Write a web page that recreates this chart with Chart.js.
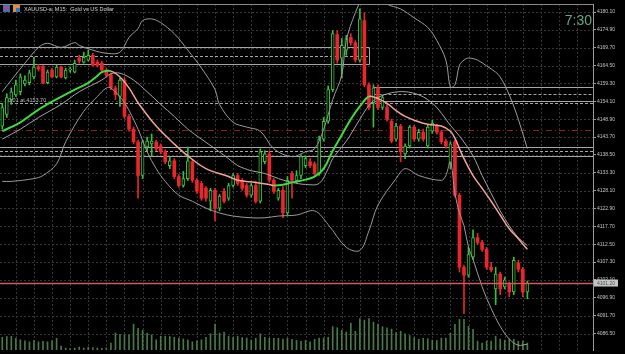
<!DOCTYPE html>
<html>
<head>
<meta charset="utf-8">
<script src="https://cdn.jsdelivr.net/npm/chart.js@4.4.1/dist/chart.umd.min.js"></script>
<style>
  html, body { margin: 0; padding: 0; background: #000; }
  canvas { display: block; }
</style>
</head>
<body>
<canvas id="myChart" width="625" height="354"></canvas>
<script>
// XAUUSD-a M15 candles
let opens = [4146.9,4150.3,4154.6,4156.0,4156.9,4159.2,4159.5,4161.2,4164.1,4164.1,
  4159.5,4163.2,4161.2,4164.1,4160.9,4163.2,4162.6,4166.7,4165.5,4166.1,
  4167.5,4165.5,4165.2,4163.2,4161.8,4158.0,4155.5,4160.3,4149.7,4146.0,
  4142.3,4132.5,4140.8,4141.7,4142.3,4141.1,4139.4,4135.4,4136.8,4132.2,
  4129.6,4131.6,4136.5,4131.1,4130.2,4128.8,4125.0,4128.2,4123.0,4127.9,
  4125.9,4129.6,4132.5,4131.1,4129.6,4126.8,4129.6,4125.0,4136.5,4138.8,
  4131.1,4125.9,4128.2,4121.6,4133.1,4131.1,4132.5,4135.4,4136.5,4135.9,
  4133.1,4143.1,4148.3,4157.5,4173.5,4166.7,4169.0,4172.7,4171.2,4166.1,
  4177.6,4158.9,4153.7,4158.0,4152.3,4152.3,4148.3,4143.1,4146.9,4138.8,
  4141.1,4146.6,4143.1,4145.1,4141.1,4145.4,4146.9,4145.1,4142.5,4135.9,
  4142.3,4126.8,4105.8,4103.5,4108.7,4114.4,4113.0,4111.0,4105.8,4099.5,
  4103.8,4100.1,4100.9,4098.6,4107.0,4105.2,4098.6];
let highs = [4153.5,4156.3,4158.0,4160.3,4162.1,4161.5,4163.2,4166.9,4164.9,4164.6,
  4163.2,4163.8,4164.6,4164.4,4163.8,4164.1,4166.1,4167.5,4168.4,4169.0,
  4168.1,4166.1,4165.8,4163.8,4162.4,4158.6,4160.9,4160.9,4150.3,4146.6,
  4142.8,4142.8,4143.7,4144.6,4142.8,4141.7,4140.0,4138.0,4137.4,4132.8,
  4133.7,4140.8,4137.1,4131.6,4130.8,4129.3,4128.8,4128.8,4127.0,4128.8,
  4130.2,4133.1,4133.1,4131.6,4130.2,4130.2,4130.8,4140.3,4139.7,4139.7,
  4131.6,4128.8,4129.3,4132.2,4133.7,4133.9,4138.5,4138.2,4137.4,4136.5,
  4144.0,4149.4,4158.6,4174.7,4174.7,4172.4,4173.3,4173.8,4171.8,4181.0,
  4179.9,4159.5,4158.9,4158.9,4156.0,4153.2,4148.9,4147.7,4147.4,4141.7,
  4147.1,4147.1,4146.0,4146.0,4147.4,4148.6,4147.4,4145.7,4143.1,4142.3,
  4142.8,4127.3,4106.4,4111.6,4116.7,4115.6,4113.6,4111.6,4107.2,4105.8,
  4104.4,4102.9,4101.5,4108.7,4107.8,4105.8,4101.8];
let lows = [4146.0,4149.4,4153.2,4155.5,4156.0,4158.6,4158.9,4160.6,4162.9,4159.2,
  4159.2,4160.9,4160.9,4160.9,4160.6,4162.6,4162.4,4165.2,4165.2,4165.8,
  4164.4,4164.1,4162.9,4161.2,4157.5,4154.6,4152.6,4149.1,4145.4,4141.7,
  4125.9,4131.6,4139.7,4138.2,4139.7,4138.8,4135.9,4134.5,4131.6,4129.1,
  4129.1,4131.1,4130.5,4127.3,4125.3,4125.0,4122.2,4119.3,4122.2,4124.5,
  4125.3,4129.1,4129.6,4128.2,4126.2,4126.2,4124.5,4124.5,4135.9,4130.5,
  4127.3,4125.3,4120.2,4121.0,4125.9,4130.5,4131.6,4134.8,4134.8,4132.5,
  4132.5,4142.5,4147.7,4156.9,4165.2,4160.9,4167.5,4170.4,4165.5,4165.5,
  4158.3,4151.7,4146.6,4151.7,4151.7,4148.3,4142.0,4142.5,4136.5,4137.4,
  4140.5,4142.5,4142.5,4142.5,4140.5,4144.8,4144.6,4141.7,4140.5,4134.5,
  4126.2,4104.4,4092.3,4102.9,4108.1,4112.4,4110.4,4105.2,4104.4,4094.9,
  4097.8,4099.5,4097.2,4097.8,4104.4,4097.2,4096.6];
let closes = [4152.3,4155.2,4156.9,4158.9,4161.2,4160.3,4162.4,4164.1,4163.5,4159.5,
  4162.6,4161.2,4164.1,4161.2,4163.2,4163.5,4165.2,4165.8,4166.9,4167.5,
  4164.6,4164.6,4163.2,4161.8,4158.0,4156.0,4160.3,4149.7,4146.0,4142.3,
  4132.5,4142.3,4142.5,4142.5,4140.3,4139.4,4136.5,4136.8,4132.2,4129.6,
  4131.6,4136.8,4131.1,4127.9,4125.9,4125.9,4128.2,4123.0,4126.5,4125.0,
  4129.6,4132.5,4130.2,4128.8,4126.8,4129.6,4125.0,4139.4,4138.8,4131.1,
  4127.9,4128.2,4121.6,4131.1,4131.1,4132.5,4138.0,4137.4,4135.4,4133.1,
  4143.1,4148.3,4157.5,4173.8,4166.1,4170.4,4172.4,4171.2,4166.1,4178.1,
  4158.9,4152.3,4158.0,4152.3,4155.2,4148.9,4142.5,4146.9,4139.4,4141.1,
  4146.6,4143.1,4145.1,4143.1,4146.6,4147.7,4145.1,4142.3,4141.1,4141.7,
  4126.8,4105.8,4103.5,4109.5,4114.4,4113.0,4111.0,4105.8,4105.0,4103.8,
  4099.5,4102.1,4098.6,4107.8,4105.2,4098.6,4101.2];
let volumes = [258,274,280,238,208,188,166,194,166,174,
  166,188,238,80,40,30,40,60,40,60,
  50,40,34,44,138,344,316,308,308,524,
  438,402,344,308,208,280,280,274,258,238,
  224,208,166,188,208,258,330,524,344,366,
  280,258,280,252,244,202,238,330,258,238,
  238,238,224,238,216,194,174,194,166,216,
  244,244,258,474,452,402,366,544,380,638,
  608,638,566,524,474,452,424,352,380,330,
  294,252,216,238,230,202,194,240,240,340,
  520,620,620,480,420,180,140,180,180,280,
  220,200,220,220,180,180,140];

// moving average (green rising / salmon falling), read at these bars
let maBars = [0,4,8,11,16,19,21,22,24,26,28,30,34,38,41,45,50,52,56,59,60,62,64,67,69,71,73,75,77,79,
  81,83,85,87,89,91,94,97,99,100,101,102,104,106,108,110,112,114,116];
let maPrices = [4145.4,4148.0,4151.7,4154.0,4157.5,4159.5,4161.5,4162.6,4162.9,4161.2,
  4158.0,4153.7,4146.9,4141.7,4138.2,4134.5,4132.2,4131.1,4130.5,4129.9,
  4129.6,4129.8,4130.5,4131.3,4132.2,4134.5,4139.7,4144.3,4148.9,4152.6,
  4155.5,4154.9,4153.5,4151.4,4149.7,4148.6,4147.4,4146.9,4145.4,4143.4,
  4140.3,4137.4,4132.5,4128.8,4125.0,4121.0,4117.0,4114.1,4111.0];

// bollinger bands
let midBars = [0,4,8,13,17,22,24,26,29,32,35,38,41,44,47,50,52,55,58,61,64,67,70,72,73,76,79,81,83,86,
  89,92,94,96,98,99,101,104,106,108,110,112,114,116];
let midPrices = [4143.1,4146.0,4149.4,4153.2,4156.9,4160.3,4162.1,4162.3,4160.3,4156.9,
  4153.2,4149.7,4146.0,4143.1,4140.3,4137.4,4135.4,4133.9,4133.1,4131.6,
  4130.5,4129.9,4130.2,4134.5,4137.4,4142.5,4148.9,4152.9,4155.2,4156.6,
  4156.9,4156.0,4154.6,4152.3,4148.9,4147.1,4144.0,4138.2,4132.5,4127.3,
  4122.2,4117.9,4114.4,4112.1];
let upBars = [0,2,5,8,10,13,16,17,20,23,26,28,30,31,33,35,38,41,44,47,48,51,54,57,60,64,67,69,71,73,
  75,76,78,80,82,84,85,88,91,94,96,98,99,100,101,102,103,105,107,109,110,112,114,116];
let upPrices = [4156.9,4160.3,4165.2,4169.8,4171.0,4169.8,4171.2,4170.4,4169.0,4168.1,
  4168.4,4172.7,4175.3,4177.6,4178.1,4177.0,4173.8,4169.0,4163.8,4157.5,
  4153.2,4148.0,4146.6,4145.4,4140.3,4138.0,4139.4,4140.3,4146.0,4154.6,
  4161.8,4171.8,4179.9,4185.0,4186.2,4184.2,4182.4,4181.0,4178.4,4175.6,
  4171.8,4166.1,4158.3,4158.9,4164.6,4166.1,4166.7,4166.1,4164.4,4162.6,
  4161.2,4156.0,4148.9,4140.3];
let lowBars = [0,2,7,9,12,14,18,21,23,24,27,30,32,34,36,39,42,45,48,51,55,58,61,65,69,72,76,79,81,83,
  87,89,92,97,98,99,100,101,102,103,104,106,108,110,112,114,116];
let lowPrices = [4130.8,4130.8,4131.6,4132.5,4135.9,4142.3,4151.2,4155.5,4158.0,4158.0,
  4153.7,4146.0,4139.4,4134.5,4130.8,4126.8,4125.0,4123.0,4121.6,4120.7,
  4120.2,4120.2,4120.7,4121.0,4122.2,4118.2,4111.6,4110.7,4116.4,4123.9,
  4131.6,4134.5,4132.5,4131.1,4132.5,4136.5,4127.3,4121.6,4117.9,4111.6,
  4108.1,4100.1,4093.8,4088.6,4084.9,4083.1,4083.4];

// objects drawn on the chart
let boxPrices = [4169.8, 4167.2, 4164.9];
let boxEndBar = 81;
let zonePrices = [4158.3, 4156.3, 4154.3];
let zoneStartBar = 82;
let orderPrice = 4153.7;
let alertPrice = 4145.7;
let supportPrices = [4140.8, 4139.7, 4138.2];

let priceTicks = [4180.10,4174.90,4169.70,4164.50,4159.30,4154.10,4148.90,4143.70,4138.50,4133.30,
  4128.10,4122.90,4117.70,4112.50,4107.30,4102.10,4096.90,4091.70,4086.50];

// bar slots, including the empty space right of the last candle
let barLabels = [];
for (let i = 0; i < 131; i++) barLabels.push(i);

const GREEN = '#36c236';
const RED = '#e8262b';

function isUp(i) {
    return closes[i] >= opens[i];
}

function points(bars, prices) {
    return bars.map((b, k) => ({ x: b, y: prices[k] }));
}

function hline(ctx, x1, x2, y) {
    ctx.beginPath();
    ctx.moveTo(x1, y);
    ctx.lineTo(x2, y);
    ctx.stroke();
}

function vline(ctx, x, y1, y2) {
    ctx.beginPath();
    ctx.moveTo(x, y1);
    ctx.lineTo(x, y2);
    ctx.stroke();
}

// grid, horizontal objects, labels
const mt4Overlay = {
    id: 'mt4Overlay',
    beforeDatasetsDraw(chart) {
        const { ctx, chartArea: a, scales: { x, y } } = chart;
        const py = v => Math.round(y.getPixelForValue(v)) + 0.5;
        ctx.save();
        ctx.lineWidth = 1;

        // dotted grid
        ctx.strokeStyle = '#363636';
        ctx.setLineDash([2, 2]);
        priceTicks.forEach(v => hline(ctx, a.left, a.right, py(v)));
        for (let i = 3; i < barLabels.length; i += 4) {
            vline(ctx, Math.round(x.getPixelForValue(i)) + 0.5, a.top, a.bottom);
        }

        ctx.strokeStyle = '#a6a6a6';
        // rectangle on the left
        const boxRight = Math.round(x.getPixelForValue(boxEndBar)) + 0.5;
        boxPrices.forEach((p, k) => {
            ctx.setLineDash(k === 1 ? [3, 2] : []);
            hline(ctx, a.left, boxRight, py(p));
        });
        ctx.setLineDash([]);
        vline(ctx, boxRight, py(boxPrices[0]), py(boxPrices[2]));

        // zone on the right
        const zoneLeft = Math.round(x.getPixelForValue(zoneStartBar)) + 0.5;
        zonePrices.forEach((p, k) => {
            ctx.setLineDash(k === 1 ? [3, 2] : []);
            hline(ctx, zoneLeft, a.right, py(p));
        });

        // order line
        ctx.setLineDash([3, 2]);
        hline(ctx, a.left, a.right, py(orderPrice));

        // lines across the whole chart
        supportPrices.forEach((p, k) => {
            ctx.setLineDash(k === 1 ? [3, 2] : []);
            hline(ctx, a.left, a.right, py(p));
        });

        // red dash-dot alert level
        ctx.strokeStyle = '#8e1e1e';
        ctx.setLineDash([6, 3, 1, 3]);
        hline(ctx, a.left, a.right, py(alertPrice));
        ctx.restore();
    },
    afterDatasetsDraw(chart) {
        const { ctx, chartArea: a, scales: { y } } = chart;
        const last = closes[closes.length - 1];
        const ly = Math.round(y.getPixelForValue(last)) + 0.5;
        ctx.save();
        // current price line
        ctx.strokeStyle = '#d05a5a';
        ctx.lineWidth = 1.5;
        hline(ctx, a.left, a.right, ly);
        // top frame
        ctx.strokeStyle = '#8a8a8a';
        ctx.lineWidth = 1;
        hline(ctx, a.left, a.right, a.top + 0.5);
        ctx.restore();
    },
    afterDraw(chart) {
        const { ctx, chartArea: a, scales: { y } } = chart;
        const last = closes[closes.length - 1];
        const ly = y.getPixelForValue(last);
        ctx.save();

        // price box on the axis
        ctx.fillStyle = '#c4c4c4';
        ctx.fillRect(a.right + 1, ly - 3.5, 24, 7);
        ctx.fillStyle = '#505050';
        ctx.font = '5px "Liberation Sans"';
        ctx.textBaseline = 'middle';
        ctx.fillText(last.toFixed(2), a.right + 4, ly + 0.5);

        // title with two small icons
        ctx.fillStyle = '#3a6fc8';
        ctx.fillRect(3, 5, 7, 7);
        ctx.fillStyle = '#e04040';
        ctx.fillRect(4, 7, 5, 1);
        ctx.fillRect(4, 9, 5, 1);
        ctx.fillStyle = '#e09030';
        ctx.fillRect(13, 5, 7, 7);
        ctx.fillStyle = '#3a6fc8';
        ctx.fillRect(16, 8, 4, 4);
        ctx.fillStyle = '#d4d4d4';
        ctx.font = '5.5px "Liberation Sans"';
        ctx.textBaseline = 'middle';
        ctx.fillText('XAUUSD-a, M15:  Gold vs US Dollar', 24, 9);

        // order label
        ctx.fillStyle = '#b8b8b8';
        ctx.font = '5.5px "Liberation Sans"';
        ctx.fillText('0.01 at ' + orderPrice.toFixed(2), 8, y.getPixelForValue(orderPrice) - 2);

        // bar countdown
        ctx.fillStyle = '#5fa987';
        ctx.font = '14px "Liberation Sans"';
        ctx.textAlign = 'right';
        ctx.textBaseline = 'alphabetic';
        ctx.fillText('7:30', a.right - 1, 25);
        ctx.restore();
    }
};

let ctx = document.getElementById('myChart').getContext('2d');
let myChart = new Chart(ctx, {
    type: 'bar',
    data: {
        labels: barLabels,
        datasets: [
            {
                // tick volume
                data: volumes,
                yAxisID: 'vol',
                backgroundColor: '#467a46',
                barThickness: 1,
                grouped: false,
                order: 9
            },
            {
                // wicks
                data: lows.map((l, i) => [l, highs[i]]),
                backgroundColor: c => isUp(c.dataIndex) ? GREEN : RED,
                barThickness: 1,
                grouped: false,
                order: 5
            },
            {
                // bodies
                data: opens.map((o, i) => [o, closes[i]]),
                backgroundColor: c => isUp(c.dataIndex) ? '#000000' : RED,
                borderColor: c => isUp(c.dataIndex) ? GREEN : RED,
                borderWidth: c => isUp(c.dataIndex) ? 1 : 0,
                borderSkipped: false,
                barThickness: 3,
                minBarLength: 1,
                grouped: false,
                order: 4
            },
            {
                type: 'line',
                data: points(upBars, upPrices),
                borderColor: '#9a9a9a',
                borderWidth: 1,
                pointRadius: 0,
                tension: 0.35,
                order: 2
            },
            {
                type: 'line',
                data: points(lowBars, lowPrices),
                borderColor: '#9a9a9a',
                borderWidth: 1,
                pointRadius: 0,
                tension: 0.35,
                order: 2
            },
            {
                type: 'line',
                data: points(midBars, midPrices),
                borderColor: '#a4a4a4',
                borderWidth: 1,
                pointRadius: 0,
                tension: 0.35,
                order: 2
            },
            {
                type: 'line',
                data: points(maBars, maPrices),
                borderWidth: 2,
                pointRadius: 0,
                tension: 0.35,
                segment: {
                    borderColor: c => c.p1.parsed.y >= c.p0.parsed.y ? '#3fdc3f' : '#f2a493',
                    borderWidth: c => c.p1.parsed.y >= c.p0.parsed.y ? 2 : 1.5
                },
                order: 1
            }
        ]
    },
    options: {
        responsive: false,
        animation: false,
        devicePixelRatio: 1,
        events: [],
        layout: { padding: { top: 3, left: 0, right: 0, bottom: 0 } },
        plugins: {
            legend: { display: false },
            tooltip: { enabled: false }
        },
        scales: {
            x: {
                type: 'category',
                display: false
            },
            y: {
                position: 'right',
                min: 4081.7,
                max: 4182.44,
                afterBuildTicks: scale => {
                    scale.ticks = priceTicks.map(v => ({ value: v }));
                },
                afterFit: scale => {
                    scale.width = 32;
                },
                ticks: {
                    autoSkip: false,
                    padding: 1,
                    color: '#c4c4c4',
                    font: { family: 'Liberation Sans', size: 5 },
                    callback: v => Number(v).toFixed(2)
                },
                grid: {
                    drawOnChartArea: false,
                    drawTicks: true,
                    tickLength: 3,
                    tickColor: '#9a9a9a'
                },
                border: { display: true, color: '#9a9a9a', width: 1 }
            },
            vol: {
                display: false,
                min: 0,
                max: 7020
            }
        }
    },
    plugins: [mt4Overlay]
});
</script>
</body>
</html>
